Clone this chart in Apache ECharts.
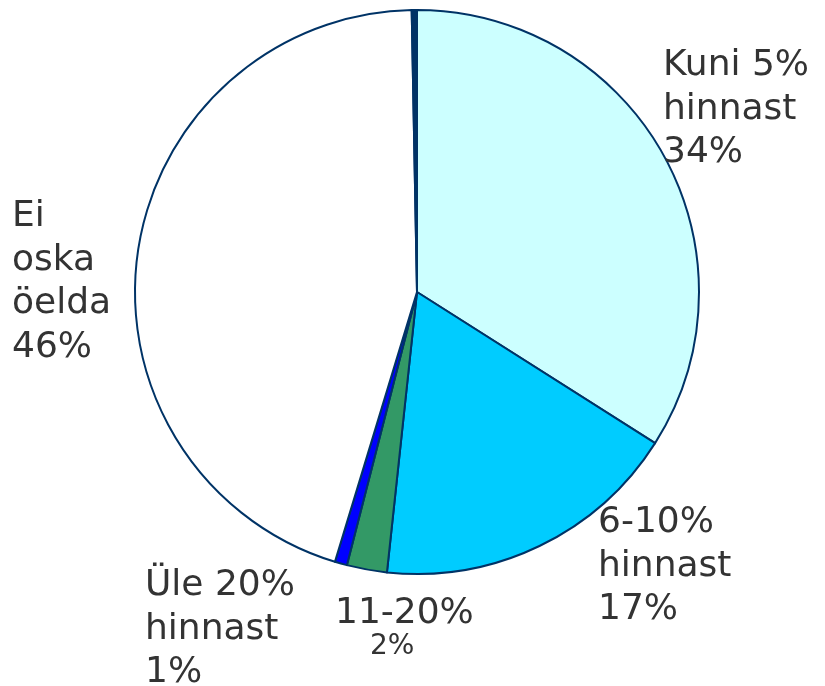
<!DOCTYPE html>
<html>
<head>
<meta charset="utf-8">
<script src="https://cdn.jsdelivr.net/npm/echarts@6/dist/echarts.min.js"></script>
<style>
  html, body { margin: 0; padding: 0; background: #fff; }
  #main { width: 825px; height: 686px; }
</style>
</head>
<body>
<div id="main"></div>
<script>
  // andmed (loetud pildilt)
  const names = ['Kuni 5%\nhinnast', '6-10%\nhinnast', '11-20%', 'Üle 20%\nhinnast', 'Ei\noska\nöelda', ''];
  const values = [34.0, 17.7, 2.3, 0.7, 45.0, 0.3];
  const pctLabels = ['34%', '17%', '2%', '1%', '46%', ''];
  const colors = ['#CCFFFF', '#00CCFF', '#339966', '#0000FF', '#FFFFFF', '#003366'];

  // sildi asukohad (x, y ülemine serv)
  const labelPos = [[663, 44], [598, 501], [335, 596], [145, 564], [12, 195], [0, 0]];

  const chart = echarts.init(document.getElementById('main'));

  const data = values.map((v, i) => ({
    name: names[i],
    value: v,
    itemStyle: { color: colors[i] },
    label: i === 2
      ? { formatter: '{a|' + names[i] + '}\n{b|' + pctLabels[i] + '}' }
      : { show: i !== 5, formatter: names[i] + '\n' + pctLabels[i] }
  }));

  const option = {
    animation: false,
    series: [{
      type: 'pie',
      center: [417, 292],
      radius: 282,
      startAngle: 90,
      clockwise: true,
      data: data,
      itemStyle: { borderColor: '#003366', borderWidth: 2 },
      emphasis: { disabled: true },
      labelLine: { show: false },
      label: {
        position: 'outside',
        overflow: 'none',
        fontFamily: 'DejaVu Sans',
        fontSize: 36,
        lineHeight: 43.5,
        color: '#333333',
        align: 'left',
        rich: {
          a: { fontFamily: 'DejaVu Sans', fontSize: 36, lineHeight: 36, color: '#333333' },
          b: { fontFamily: 'DejaVu Sans', fontSize: 28, lineHeight: 30, color: '#333333', padding: [0, 0, 0, 35] }
        }
      },
      labelLayout: function (params) {
        const p = labelPos[params.dataIndex];
        return { x: p[0], y: p[1], align: 'left', verticalAlign: 'top' };
      }
    }]
  };

  chart.setOption(option);
</script>
</body>
</html>
